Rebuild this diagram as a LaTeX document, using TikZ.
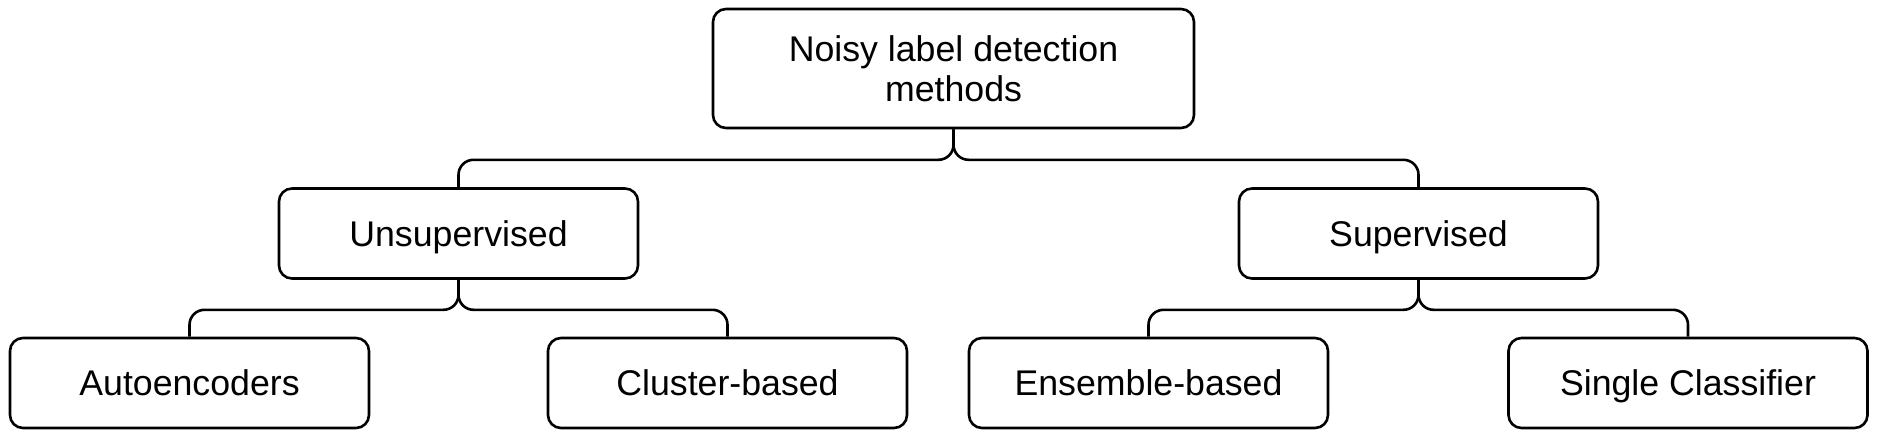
\documentclass[tikz,border=0pt]{standalone}
\usepackage{fontspec}
\setmainfont{Liberation Sans}
\begin{document}
\begin{tikzpicture}[x=1pt,y=-1pt,
  basebox/.style={draw=black, line width=2.6pt, rounded corners=13pt, fill=white,
    inner sep=0pt, align=center, font=\fontsize{35.7}{40}\selectfont},
  box/.style={basebox, minimum width=359pt, minimum height=90pt,
    text height=25pt, text depth=0pt},
  rootbox/.style={basebox, minimum width=481pt, minimum height=119pt},
  conn/.style={draw=black, line width=2.6pt, rounded corners=15pt}]
\useasboundingbox (0,0) rectangle (1878,436);
\node[rootbox] (root) at (953.5,68.5) {Noisy label detection\\methods};
\node[box] (uns) at (458.5,233.5) {Unsupervised};
\node[box] (sup) at (1418.5,233.5) {Supervised};
\node[box] (auto) at (189.5,383) {Autoencoders};
\node[box] (clus) at (727.5,383) {Cluster-based};
\node[box] (ens) at (1148.5,383) {Ensemble-based};
\node[box] (single) at (1688,383) {Single Classifier};
\draw[conn] (root.south) -- ++(0,30.5) -| (uns.north);
\draw[conn] (root.south) -- ++(0,30.5) -| (sup.north);
\draw[conn] (uns.south) -- ++(0,30) -| (auto.north);
\draw[conn] (uns.south) -- ++(0,30) -| (clus.north);
\draw[conn] (sup.south) -- ++(0,30) -| (ens.north);
\draw[conn] (sup.south) -- ++(0,30) -| (single.north);
\end{tikzpicture}
\end{document}
